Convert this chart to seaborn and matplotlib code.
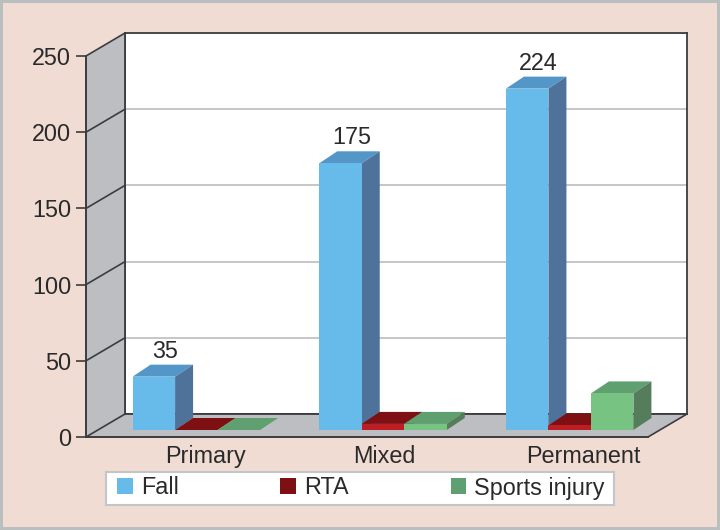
import matplotlib
matplotlib.use("Agg")
import matplotlib.pyplot as plt
import seaborn as sns
import pandas as pd
from matplotlib.patches import Patch, Polygon, Rectangle
from matplotlib.lines import Line2D
from matplotlib.transforms import IdentityTransform, ScaledTranslation

stages = ["Primary", "Mixed", "Permanent"]
fall = [35, 175, 224]
rta = [0, 4, 3]
sports = [0, 4, 24]
causes = ["Fall", "RTA", "Sports injury"]
y_ticks = [0, 50, 100, 150, 200, 250]

FRONT = {"Fall": "#67bbea", "RTA": "#bd1e24", "Sports injury": "#76c382"}
TOP = {"Fall": "#5496c8", "RTA": "#7e0f12", "Sports injury": "#609f6f"}
SIDE = {"Fall": "#4e7299", "RTA": "#6a0d10", "Sports injury": "#557d5c"}
BG = "#f0dcd3"
WALL = "#bcbec1"
DARK = "#3c3c40"
TEXT = "#2a2a2a"
FS = 16.8

sns.set_style("white")
plt.rcParams["font.family"] = ["Liberation Sans", "DejaVu Sans"]
plt.rcParams["font.size"] = FS

W, H = 720, 530
fig = plt.figure(figsize=(W / 100, H / 100), dpi=100, facecolor=BG, edgecolor="#b9bebe", linewidth=3)


def axes_px(x0, y0, x1, y1, zorder):
    a = fig.add_axes([x0 / W, 1 - y1 / H, (x1 - x0) / W, (y1 - y0) / H], zorder=zorder)
    a.set_ylim(0, 250)
    return a


# back wall
back = axes_px(125, 33, 687, 414, 0)
back.set_facecolor("white")
back.set_xticks([])
back.set_yticks(y_ticks)
back.tick_params(left=False, labelleft=False)
back.yaxis.grid(True, color="#b4b6b8", lw=1.1)
back.set_axisbelow(True)
for s in back.spines.values():
    s.set_color(DARK)
    s.set_linewidth(1.3)

# front plane: numeric axis, side wall and floor
front = axes_px(86, 56, 648, 437, 1)
front.patch.set_alpha(0)
front.set_xticks([])
front.set_yticks(y_ticks)
front.tick_params(axis="y", left=True, length=7.2, width=1.2, color=DARK, pad=3.6, labelsize=FS, labelcolor=TEXT)
for k in ("top", "right"):
    front.spines[k].set_visible(False)
for k in ("left", "bottom"):
    front.spines[k].set_color(DARK)
    front.spines[k].set_linewidth(1.4)
fig.canvas.draw()
fl, fb = front.transAxes.transform((0, 0))
fr, ft = front.transAxes.transform((1, 1))
bl, bb = back.transAxes.transform((0, 0))
br, bt = back.transAxes.transform((1, 1))
for pts in ([(fl, fb), (fr, fb), (br, bb), (bl, bb)], [(fl, fb), (bl, bb), (bl, bt), (fl, ft)]):
    front.add_patch(Polygon(pts, closed=True, fc=WALL, ec="none", transform=IdentityTransform(), clip_on=False, zorder=1))
for t in y_ticks:
    yf = front.transData.transform((0, t))[1]
    yb = back.transData.transform((0, t))[1]
    front.add_line(Line2D([fl, bl], [yf, yb], color=DARK, lw=1.2, transform=IdentityTransform(), clip_on=False, zorder=2))
front.add_line(Line2D([fr, br], [fb, bb], color=DARK, lw=1.2, transform=IdentityTransform(), clip_on=False, zorder=2))
front.add_line(Line2D([bl, bl], [bb, bt], color=DARK, lw=1.3, transform=IdentityTransform(), clip_on=False, zorder=2))
front.add_line(Line2D([bl, br], [bb, bb], color=DARK, lw=1.3, transform=IdentityTransform(), clip_on=False, zorder=2))

# bars
df = pd.DataFrame({
    "stage": stages * 3,
    "cause": [c for c in causes for _ in stages],
    "cases": fall + rta + sports,
})
ax = axes_px(103, 49, 663, 430, 2)
ax.patch.set_alpha(0)
sns.barplot(data=df, x="stage", y="cases", hue="cause", hue_order=causes, order=stages,
            palette=FRONT, width=0.683, dodge=True, errorbar=None, legend=False,
            saturation=1, ax=ax, zorder=4, linewidth=0)
ax.set_xlim(-0.5, 2.5)
ax.set_ylim(0, 250)
ax.set_xlabel("")
ax.set_ylabel("")
ax.set_yticks([])
sns.despine(ax=ax, left=True, bottom=True)

px_x = 560 / 3
px_y = 381 / 250
dx, dy = 18 / px_x, 12 / px_y

for cause, container in zip(causes, ax.containers):
    for bar in container:
        x, w, h = bar.get_x(), bar.get_width(), bar.get_height()
        ax.add_patch(Polygon([(x, h), (x + w, h), (x + w + dx, h + dy), (x + dx, h + dy)],
                             closed=True, fc=TOP[cause], ec="none", clip_on=False, zorder=3))
        if h > 0:
            ax.add_patch(Polygon([(x + w, 0), (x + w + dx, dy), (x + w + dx, h + dy), (x + w, h)],
                                 closed=True, fc=SIDE[cause], ec="none", clip_on=False, zorder=3))
        if cause == "Fall":
            ax.annotate(f"{h:.0f}", (x + w / 2 + dx / 2, h + dy), xytext=(1.5, 5), textcoords="offset points",
                        ha="center", va="baseline", fontsize=FS, color=TEXT, annotation_clip=False, zorder=5)

ax.tick_params(axis="x", length=0, pad=10.5, labelsize=FS, labelcolor=TEXT)
for lab, shift in zip(ax.get_xticklabels(), [9, 1, 14]):
    lab.set_transform(lab.get_transform() + ScaledTranslation(shift / 100, 0, fig.dpi_scale_trans))

# legend box and entries
fig.add_artist(Rectangle((106 / W, 1 - 504.5 / H), 508 / W, 32.5 / H, transform=fig.transFigure,
                         fc="white", ec="#c3c6c8", lw=1.5, zorder=5))
swatch = {"Fall": FRONT["Fall"], "RTA": TOP["RTA"], "Sports injury": TOP["Sports injury"]}
handles = [Patch(fc=swatch[c], ec="none", label=c) for c in causes]
leg = fig.legend(handles=handles, ncol=3, loc="center left", bbox_to_anchor=(117 / W, 1 - 488 / H),
                 borderaxespad=0, borderpad=0, frameon=False, fontsize=FS,
                 handlelength=0.68, handleheight=0.68, handletextpad=0.34, columnspacing=4.36,
                 labelcolor=TEXT)
leg.set_zorder(6)

fig.savefig("out.png", dpi=100)
